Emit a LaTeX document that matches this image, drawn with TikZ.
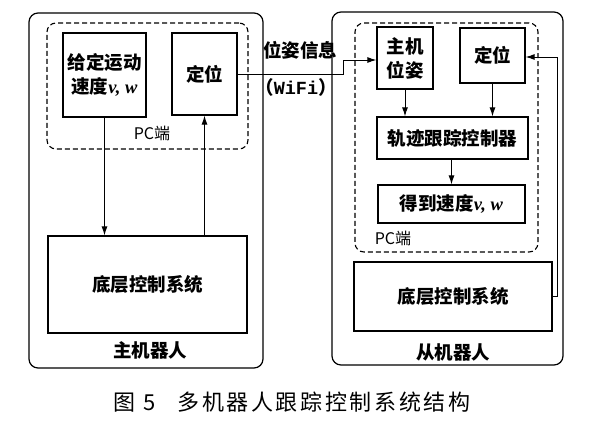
\documentclass[tikz,border=0pt]{standalone}
\usepackage{fontspec}
\setmainfont{Noto Sans CJK SC}
\newfontfamily\latin{Liberation Serif}
\newfontfamily\mono{Liberation Mono}
\usetikzlibrary{arrows.meta,positioning}

\begin{document}
\begin{tikzpicture}[x=1pt, y=-1pt,
    box/.style={draw, line width=1.2pt, rectangle, align=center, inner sep=0pt, font=\fontsize{18.5}{24}\selectfont\bfseries},
    robot/.style={draw, line width=1.2pt, rectangle, rounded corners=9pt, inner sep=0pt},
    pcbox/.style={draw, line width=1.1pt, dash pattern=on 5pt off 3pt, rectangle, rounded corners=9pt, inner sep=0pt},
    lbl/.style={inner sep=0pt, font=\fontsize{18.5}{22}\selectfont\bfseries},
    pclbl/.style={inner sep=0pt, font=\fontsize{16}{18}\selectfont},
    line/.style={draw, line width=1pt, -{Latex[length=9pt,width=6pt]}}
]
\useasboundingbox (0,0) rectangle (608,426);

\node[robot, minimum width=234pt, minimum height=355pt] (host) at (146,190.5) {};
\node[pcbox, minimum width=201pt, minimum height=126pt] (hostpc) at (147.5,86) {};
\node[box, minimum width=83pt, minimum height=84pt] (setvel) at (104.5,75) {给定运动\\速度{\latin\bfseries\itshape v, w}};
\node[box, minimum width=65pt, minimum height=82pt] (hostloc) at (204.5,74) {定位};
\node[box, minimum width=199pt, minimum height=97pt] (hostbase) at (147.5,284.5) {底层控制系统};
\node[pclbl] (hostpcname) at (152,133) {PC端};
\node[lbl] (hostname) at (150,350) {主机器人};

\node[robot, minimum width=231pt, minimum height=353pt] (slave) at (447.5,188.5) {};
\node[pcbox, minimum width=183pt, minimum height=229pt] (slavepc) at (446.5,137.5) {};
\node[box, minimum width=56pt, minimum height=62pt] (hostpose) at (405,58) {主机\\位姿};
\node[box, minimum width=65pt, minimum height=55pt] (slaveloc) at (492.5,55.5) {定位};
\node[box, minimum width=151pt, minimum height=42pt] (tracker) at (452.5,138) {轨迹跟踪控制器};
\node[box, minimum width=147pt, minimum height=38pt] (getvel) at (451.5,204) {得到速度{\latin\bfseries\itshape v, w}};
\node[box, minimum width=198pt, minimum height=69pt] (slavebase) at (453,296.5) {底层控制系统};
\node[pclbl] (slavepcname) at (393,238) {PC端};
\node[lbl] (slavename) at (453,352) {从机器人};

\node[lbl] (poseinfo) at (300,50) {位姿信息};
\node[lbl] (wifi) at (296,87) {（{\mono WiFi}）};
\node[inner sep=0pt, font=\fontsize{22}{26}\selectfont\addfontfeatures{LetterSpace=12}] (caption) at (292,402) {图 5\quad 多机器人跟踪控制系统结构};

\coordinate (wifistep) at (343,60);
\coordinate (fbup) at (557,57);

\draw[line] (setvel.south) -- (setvel.south |- hostbase.north);
\draw[line] (hostbase.north -| hostloc.south) -- (hostloc.south);
\draw[line] (hostloc.east) -- (hostloc.east -| wifistep) -- (wifistep) -- (wifistep -| hostpose.west);
\draw[line] (hostpose.south) -- (hostpose.south |- tracker.north);
\draw[line] (slaveloc.south) -- (slaveloc.south |- tracker.north);
\draw[line] (tracker.south -| getvel.north) -- (getvel.north);
\draw[line] (slavebase.east) -- (slavebase.east -| fbup) -- (fbup) -- (fbup -| slaveloc.east);

\end{tikzpicture}
\end{document}
